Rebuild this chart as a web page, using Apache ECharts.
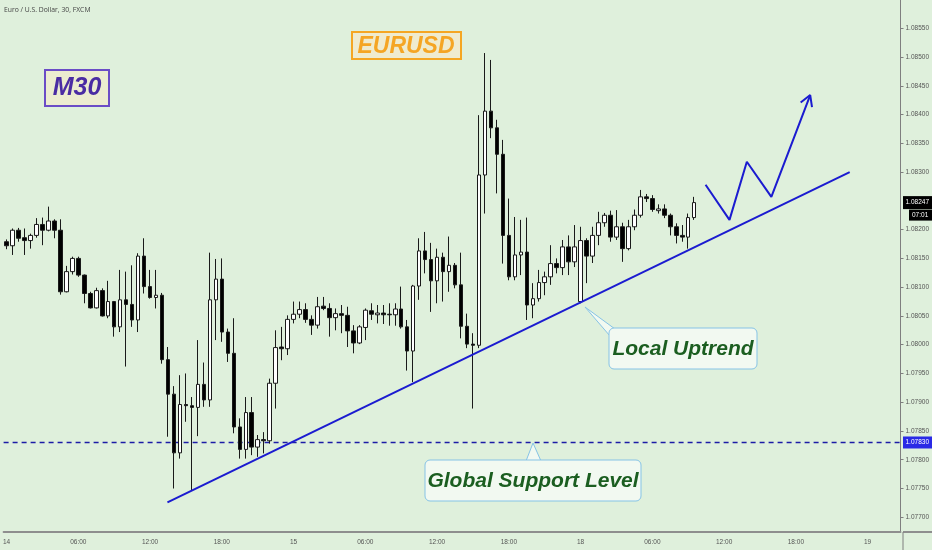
<!DOCTYPE html>
<html><head><meta charset="utf-8">
<script src="https://cdn.jsdelivr.net/npm/echarts@6/dist/echarts.min.js"></script>
<style>html,body{margin:0;padding:0;background:#dff0dc}#c{width:932px;height:550px}</style>
</head><body><div id="c"></div>
<script>
// ---- data ----
const sessionDays = ['14', '15', '18', '19'];
const slotCount = 150;
const tickLabels = ['14', '06:00', '12:00', '18:00', '15', '06:00', '12:00', '18:00', '18', '06:00', '12:00', '18:00', '19'];
const yLabelValues = [1.077, 1.0775, 1.078, 1.0785, 1.079, 1.0795, 1.08, 1.0805, 1.081, 1.0815, 1.082, 1.083, 1.0835, 1.084, 1.0845, 1.085, 1.0855];
// [open, close, low, high]
const candles = [
[1.08179,1.08172,1.08166,1.08183],[1.08172,1.08199,1.08156,1.08202],[1.08199,1.08185,1.08179,1.08203],[1.08186,1.08181,1.08156,1.08202],
[1.08181,1.08190,1.08167,1.08193],[1.08190,1.08209,1.08186,1.08220],[1.08209,1.08199,1.08173,1.08221],[1.08199,1.08215,1.08197,1.08240],
[1.08215,1.08199,1.08185,1.08218],[1.08199,1.08092,1.08087,1.08218],[1.08092,1.08127,1.08091,1.08137],[1.08127,1.08150,1.08122,1.08153],
[1.08150,1.08121,1.08118,1.08153],[1.08121,1.08089,1.08072,1.08122],[1.08089,1.08064,1.08063,1.08092],[1.08064,1.08094,1.08063,1.08099],
[1.08094,1.08050,1.08049,1.08098],[1.08050,1.08075,1.08046,1.08111],[1.08075,1.08031,1.08014,1.08076],[1.08031,1.08078,1.08022,1.08130],
[1.08078,1.08070,1.07962,1.08127],[1.08070,1.08043,1.08031,1.08138],[1.08043,1.08154,1.08022,1.08159],[1.08154,1.08101,1.08089,1.08185],
[1.08101,1.08082,1.08080,1.08130],[1.08082,1.08086,1.08063,1.08130],[1.08086,1.07974,1.07967,1.08090],[1.07974,1.07914,1.07840,1.07996],
[1.07914,1.07812,1.07750,1.07928],[1.07812,1.07896,1.07802,1.07947],[1.07896,1.07894,1.07866,1.07950],[1.07894,1.07891,1.07747,1.07909],
[1.07891,1.07931,1.07841,1.08008],[1.07931,1.07904,1.07892,1.07969],[1.07904,1.08078,1.07892,1.08160],[1.08078,1.08114,1.08008,1.08149],
[1.08114,1.08022,1.08005,1.08150],[1.08022,1.07985,1.07970,1.08028],[1.07985,1.07857,1.07846,1.08046],[1.07857,1.07818,1.07802,1.07872],
[1.07818,1.07882,1.07802,1.07909],[1.07882,1.07822,1.07808,1.07909],[1.07822,1.07835,1.07805,1.07843],[1.07835,1.07833,1.07811,1.07848],
[1.07833,1.07933,1.07828,1.07941],[1.07933,1.07995,1.07889,1.08025],[1.07996,1.07993,1.07973,1.08031],[1.07993,1.08044,1.07982,1.08051],
[1.08044,1.08053,1.08037,1.08075],[1.08053,1.08061,1.08046,1.08075],[1.08061,1.08044,1.08038,1.08072],[1.08044,1.08034,1.08017,1.08051],
[1.08034,1.08066,1.08028,1.08083],[1.08067,1.08063,1.08060,1.08083],[1.08063,1.08047,1.08014,1.08072],[1.08047,1.08054,1.08025,1.08063],
[1.08054,1.08051,1.08020,1.08069],[1.08051,1.08024,1.07996,1.08066],[1.08024,1.08003,1.07985,1.08034],[1.08003,1.08031,1.08001,1.08034],
[1.08030,1.08060,1.08008,1.08063],[1.08059,1.08053,1.08043,1.08072],[1.08052,1.08055,1.08037,1.08069],[1.08055,1.08052,1.08036,1.08069],
[1.08053,1.08052,1.08033,1.08072],[1.08052,1.08062,1.08033,1.08072],[1.08062,1.08031,1.08028,1.08101],[1.08031,1.07989,1.07955,1.08043],
[1.07989,1.08102,1.07935,1.08104],[1.08102,1.08163,1.08078,1.08185],[1.08163,1.08148,1.08124,1.08196],[1.08148,1.08111,1.08057,1.08177],
[1.08111,1.08152,1.08072,1.08167],[1.08152,1.08127,1.08075,1.08160],[1.08127,1.08138,1.08092,1.08188],[1.08138,1.08104,1.08098,1.08142],
[1.08104,1.08032,1.08011,1.08160],[1.08032,1.08001,1.07994,1.08054],[1.08001,1.07999,1.07889,1.08020],[1.07999,1.08295,1.07994,1.08399],
[1.08295,1.08406,1.08228,1.08507],[1.08406,1.08377,1.08359,1.08495],[1.08377,1.08331,1.08263,1.08391],[1.08331,1.08190,1.08141,1.08356],
[1.08190,1.08118,1.08112,1.08254],[1.08118,1.08156,1.08112,1.08222],[1.08156,1.08161,1.08121,1.08217],[1.08161,1.08069,1.08043,1.08221],
[1.08069,1.08080,1.08046,1.08107],[1.08080,1.08108,1.08075,1.08130],[1.08108,1.08118,1.08086,1.08127],[1.08118,1.08141,1.08104,1.08173],
[1.08141,1.08134,1.08124,1.08150],[1.08134,1.08170,1.08121,1.08182],[1.08170,1.08144,1.08121,1.08190],[1.08144,1.08170,1.08135,1.08208],
[1.08075,1.08181,1.08072,1.08205],[1.08181,1.08154,1.08107,1.08185],[1.08154,1.08190,1.08142,1.08205],[1.08190,1.08212,1.08173,1.08231],
[1.08212,1.08225,1.08205,1.08229],[1.08225,1.08187,1.08179,1.08233],[1.08187,1.08205,1.08182,1.08234],[1.08205,1.08167,1.08144,1.08212],
[1.08167,1.08205,1.08164,1.08217],[1.08205,1.08225,1.08199,1.08235],[1.08225,1.08257,1.08221,1.08269],[1.08257,1.08254,1.08248,1.08262],
[1.08254,1.08235,1.08231,1.08260],[1.08233,1.08236,1.08228,1.08244],[1.08236,1.08225,1.08220,1.08244],[1.08225,1.08205,1.08190,1.08228],
[1.08205,1.08190,1.08176,1.08211],[1.08190,1.08187,1.08179,1.08208],[1.08187,1.08221,1.08167,1.08228],[1.08221,1.08247,1.08217,1.08257]
];
const supportLevel = 1.0783;
const lastPrice = 1.08247;
const lastTime = '07:01';
// annotation drawings: [slot index, price]
const trendLine = [[26.9, 1.07726], [141.0, 1.08300]];
const zigzag = [[116.9, 1.08278], [120.9, 1.08217], [123.8, 1.08318], [127.9, 1.08257], [134.4, 1.08434]];
const arrowHead = [[132.8, 1.08421], [134.4, 1.08434], [134.7, 1.08413]];

// ---- build ----
const categories = [];
for (let i = 0; i < slotCount; i++) {
  const d = sessionDays[Math.floor(i / 48)];
  const m = (i % 48) * 30;
  categories.push(d + ' ' + String(Math.floor(m / 60)).padStart(2, '0') + ':' + String(m % 60).padStart(2, '0'));
}
const FONT = 'Liberation Sans, Arial, sans-serif';
const chart = echarts.init(document.getElementById('c'), null, { renderer: 'canvas' });
const blue = '#1b1bd0';
const calloutFill = '#f2f9f1', calloutStroke = '#86c3e6', calloutText = '#1b5e20';

chart.setOption({
  animation: false,
  backgroundColor: '#dff0dc',
  grid: { left: 0, right: 29, top: 0, bottom: 18, containLabel: false },
  xAxis: [{
    type: 'category', data: categories, boundaryGap: true,
    axisLine: { onZero: false, lineStyle: { color: '#8e8e8e', width: 2 } },
    axisTick: { interval: 11, alignWithLabel: true, length: 3, lineStyle: { color: '#8e8e8e' } },
    axisLabel: { interval: 11, fontSize: 6.5, color: '#555', margin: 7, fontFamily: FONT,
      formatter: (v, idx) => tickLabels[Math.round(idx / 12)] },
    splitLine: { show: false }
  }, {
    type: 'value', min: -0.5, max: slotCount - 0.5, show: false, gridIndex: 0
  }],
  yAxis: {
    type: 'value', position: 'right', min: 1.076744, max: 1.085992, scale: true,
    axisLine: { show: true, onZero: false, lineStyle: { color: '#7f7f7f', width: 1 } },
    axisTick: { show: true, customValues: yLabelValues, length: 3, lineStyle: { color: '#7f7f7f' } },
    axisLabel: { customValues: yLabelValues, fontSize: 6.5, color: '#555', margin: 5, fontFamily: FONT,
      formatter: v => v.toFixed(5) },
    splitLine: { show: false }
  },
  series: [{
    type: 'line', xAxisIndex: 1, data: [[-0.5, supportLevel], [slotCount - 0.5, supportLevel]], symbol: 'none',
    lineStyle: { color: '#1c1ca6', width: 1.5, type: [5, 4] }, z: 1, silent: true
  }, {
    type: 'candlestick', data: candles, xAxisIndex: 0, barWidth: 4, z: 2,
    itemStyle: { color: '#ffffff', color0: '#000000', borderColor: '#1a1a1a', borderColor0: '#1a1a1a', borderWidth: 1 }
  }, {
    type: 'line', xAxisIndex: 1, data: trendLine, symbol: 'none',
    lineStyle: { color: blue, width: 2 }, z: 5
  }, {
    type: 'line', xAxisIndex: 1, data: zigzag, symbol: 'none',
    lineStyle: { color: blue, width: 2 }, z: 5
  }, {
    type: 'line', xAxisIndex: 1, data: arrowHead, symbol: 'none',
    lineStyle: { color: blue, width: 2 }, z: 5
  }]
});

const right = 932 - 29;
const py = chart.convertToPixel({ yAxisIndex: 0 }, lastPrice);
const sy = chart.convertToPixel({ yAxisIndex: 0 }, supportLevel);

chart.setOption({
  graphic: [
    { type: 'text', left: 4, top: 7, style: { text: 'Euro / U.S. Dollar, 30, FXCM', fontSize: 6.8, fill: '#444', fontFamily: 'Open Sans, sans-serif' } },
    // M30 box
    { type: 'rect', shape: { x: 45, y: 70, width: 64, height: 36 }, style: { fill: '#ececd0', stroke: '#6b4cc6', lineWidth: 2 } },
    { type: 'text', x: 77, y: 88, style: { text: 'M30', fontSize: 25, fontWeight: 'bold', fontStyle: 'italic', fill: '#4a2ba3', align: 'center', verticalAlign: 'middle', fontFamily: FONT } },
    // EURUSD box
    { type: 'rect', shape: { x: 352, y: 32, width: 109, height: 27 }, style: { fill: '#efebcf', stroke: '#f5a623', lineWidth: 2 } },
    { type: 'text', x: 406, y: 47, style: { text: 'EURUSD', fontSize: 23, fontWeight: 'bold', fontStyle: 'italic', fill: '#f5a524', align: 'center', verticalAlign: 'middle', fontFamily: FONT } },
    // Local Uptrend callout
    { type: 'polygon', shape: { points: [[585, 307], [615, 329], [610, 336]] }, style: { fill: calloutFill, stroke: calloutStroke, lineWidth: 1 }, z: 10 },
    { type: 'rect', shape: { x: 609, y: 328, width: 148, height: 41, r: 5 }, style: { fill: calloutFill, stroke: calloutStroke, lineWidth: 1 }, z: 10 },
    { type: 'text', x: 683, y: 349, z: 11, style: { text: 'Local Uptrend', fontSize: 21, fontWeight: 'bold', fontStyle: 'italic', fill: calloutText, align: 'center', verticalAlign: 'middle', fontFamily: FONT } },
    // Global Support callout
    { type: 'polygon', shape: { points: [[533, 443], [526, 461], [541, 461]] }, style: { fill: calloutFill, stroke: calloutStroke, lineWidth: 1 }, z: 10 },
    { type: 'rect', shape: { x: 425, y: 460, width: 216, height: 41, r: 5 }, style: { fill: calloutFill, stroke: calloutStroke, lineWidth: 1 }, z: 10 },
    { type: 'text', x: 533, y: 481, z: 11, style: { text: 'Global Support Level', fontSize: 21, fontWeight: 'bold', fontStyle: 'italic', fill: calloutText, align: 'center', verticalAlign: 'middle', fontFamily: FONT } },
    // axis extensions
    { type: 'line', shape: { x1: right, y1: 532, x2: 932, y2: 532 }, style: { stroke: '#8e8e8e', lineWidth: 2 } },
    { type: 'line', shape: { x1: right, y1: 532, x2: right, y2: 550 }, style: { stroke: '#7f7f7f', lineWidth: 1 } },
    // support tag
    { type: 'rect', shape: { x: right, y: sy - 6, width: 29, height: 12 }, style: { fill: '#2a2ae6' }, z: 20 },
    { type: 'text', x: right + 2.5, y: sy, z: 21, style: { text: supportLevel.toFixed(5), fontSize: 6.5, fill: '#fff', verticalAlign: 'middle', fontFamily: FONT } },
    // last price tag
    { type: 'rect', shape: { x: right, y: py - 6.5, width: 29, height: 13 }, style: { fill: '#000' }, z: 20 },
    { type: 'text', x: right + 2.5, y: py, z: 21, style: { text: lastPrice.toFixed(5), fontSize: 6.5, fill: '#fff', verticalAlign: 'middle', fontFamily: FONT } },
    { type: 'rect', shape: { x: right + 6, y: py + 7, width: 23, height: 11 }, style: { fill: '#000' }, z: 20 },
    { type: 'text', x: right + 9, y: py + 12.5, z: 21, style: { text: lastTime, fontSize: 6.5, fill: '#fff', verticalAlign: 'middle', fontFamily: FONT } }
  ]
});
</script></body></html>
